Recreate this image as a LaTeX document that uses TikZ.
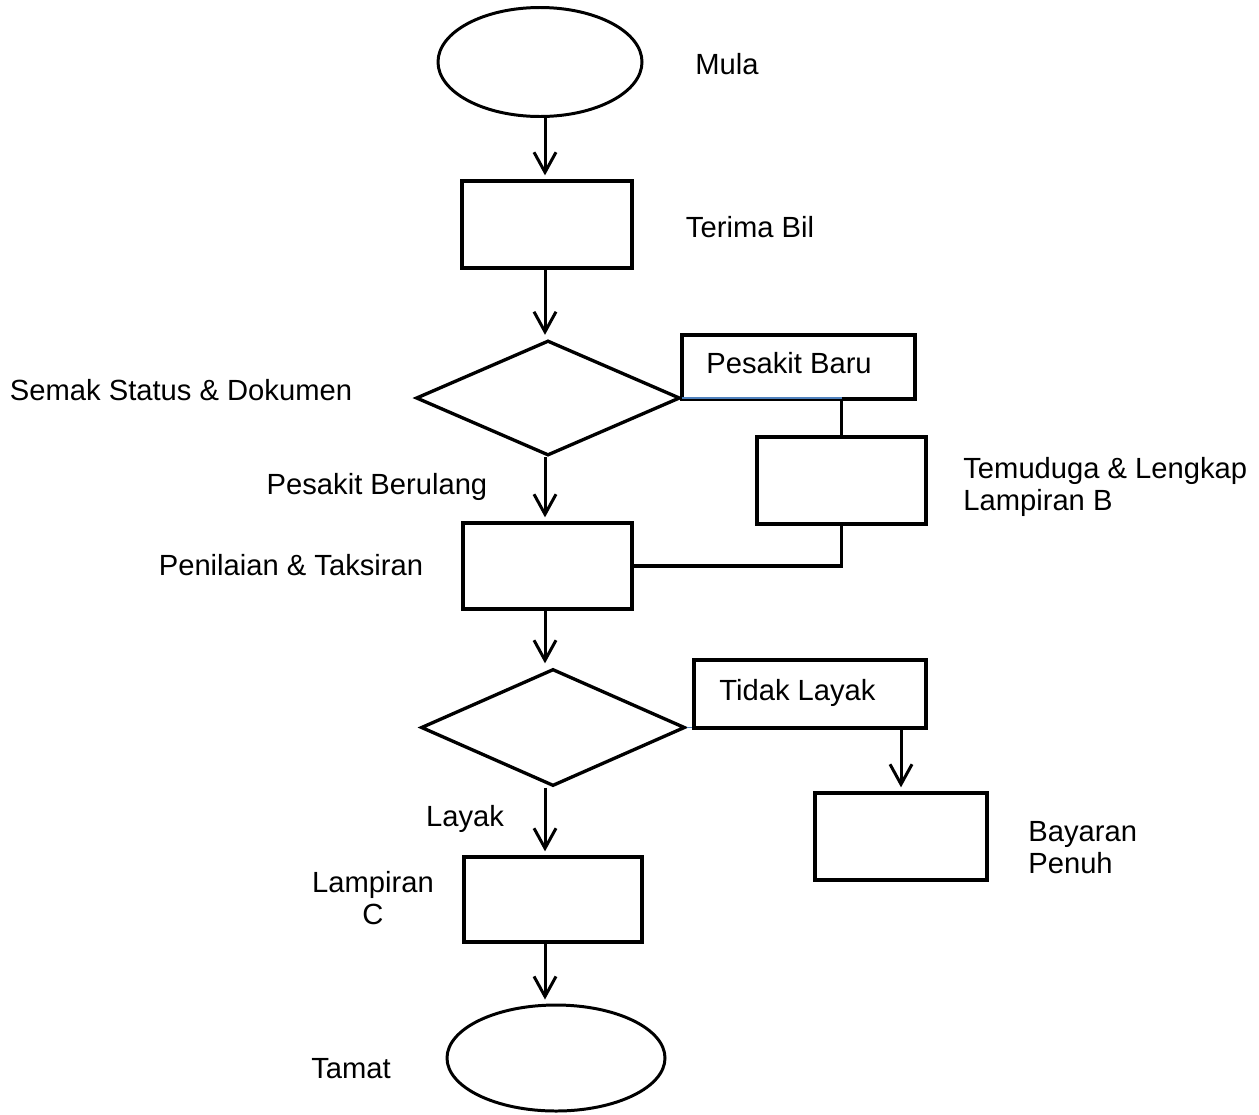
\documentclass[tikz,border=0pt]{standalone}
\usepackage{fontspec}
\setmainfont{Liberation Sans}
\usetikzlibrary{shapes.geometric,arrows.meta}

\definecolor{lineblue}{RGB}{79, 129, 189}

\tikzset{
    procbox/.style={draw, line width=1.9pt, inner sep=0pt},
    termbox/.style={draw, ellipse, line width=1.7pt, inner sep=0pt},
    decbox/.style={draw, diamond, line width=1.9pt, inner sep=0pt},
    lbl/.style={inner sep=0pt, font=\fontsize{16.6pt}{18.2pt}\selectfont},
    arr/.style={line width=1.7pt, shorten >=0.08cm, -{Straight Barb[length=4mm, width=4.4mm, line width=1.7pt]}},
    link/.style={line width=1.9pt},
    bluelink/.style={line width=0.6pt, lineblue}
}

\begin{document}
\begin{tikzpicture}
            \useasboundingbox (0, 0) rectangle (25.18, -22.28);

            \coordinate (spine) at (10.9, 0);

            \node[termbox, minimum width=4.08cm, minimum height=2.18cm] (mula) at (10.8, -1.24) {};
            \node[procbox, minimum width=3.4cm, minimum height=1.74cm] (terima) at (10.94, -4.49) {};
            \node[decbox, minimum width=5.28cm, minimum height=2.3cm] (semak) at (10.96, -7.96) {};
            \node[procbox, minimum width=4.66cm, minimum height=1.28cm] (baru) at (15.97, -7.34) {};
            \node[procbox, minimum width=3.38cm, minimum height=1.74cm] (temuduga) at (16.83, -9.61) {};
            \node[procbox, minimum width=3.38cm, minimum height=1.72cm] (penilaian) at (10.95, -11.32) {};
            \node[decbox, minimum width=5.28cm, minimum height=2.34cm] (layak) at (11.06, -14.55) {};
            \node[procbox, minimum width=4.64cm, minimum height=1.36cm] (tidak) at (16.2, -13.88) {};
            \node[procbox, minimum width=3.44cm, minimum height=1.74cm] (bayaran) at (18.02, -16.73) {};
            \node[procbox, minimum width=3.56cm, minimum height=1.7cm] (lampiran) at (11.06, -17.99) {};
            \node[termbox, minimum width=4.36cm, minimum height=2.12cm] (tamat) at (11.12, -21.16) {};

            \node[lbl, anchor=base] (mulalbl) at (14.54, -1.48) {Mula};
            \node[lbl, anchor=base] (terimalbl) at (15.0, -4.74) {Terima Bil};
            \node[lbl, anchor=base] (semaklbl) at (3.62, -8.0) {Semak Status \& Dokumen};
            \node[lbl, anchor=base west] (barulbl) at (14.12, -7.46) {Pesakit Baru};
            \node[lbl, anchor=base west, align=left] (temudugalbl) at (19.26, -10.2) {Temuduga \& Lengkap\\Lampiran B};
            \node[lbl, anchor=base] (berulanglbl) at (7.54, -9.88) {Pesakit Berulang};
            \node[lbl, anchor=base] (penilaianlbl) at (5.82, -11.5) {Penilaian \& Taksiran};
            \node[lbl, anchor=base west] (tidaklbl) at (14.38, -14.0) {Tidak Layak};
            \node[lbl, anchor=base west, align=left] (bayaranlbl) at (20.56, -17.46) {Bayaran\\Penuh};
            \node[lbl, anchor=base] (layaklbl) at (9.3, -16.52) {Layak};
            \node[lbl, anchor=base, align=center] (lampiranlbl) at (7.46, -18.48) {Lampiran\\C};
            \node[lbl, anchor=base] (tamatlbl) at (7.02, -21.56) {Tamat};

            \draw[arr] (mula.south -| spine) -- (terima.north -| spine);
            \draw[arr] (terima.south -| spine) -- (semak.north -| spine);
            \draw[arr] (semak.south -| spine) -- (penilaian.north -| spine);
            \draw[arr] (penilaian.south -| spine) -- (layak.north -| spine);
            \draw[arr] (layak.south -| spine) -- (lampiran.north -| spine);
            \draw[arr] (lampiran.south -| spine) -- (tamat.north -| spine);
            \draw[arr] (tidak.south -| bayaran.north) -- (bayaran.north);

            \draw[bluelink] (semak.east) -- (semak.east -| temuduga.north);
            \draw[link] (baru.south -| temuduga.north) -- (temuduga.north);
            \draw[link] (temuduga.south) |- (penilaian.east);
            \draw[bluelink] (layak.east) -- (layak.east -| tidak.west);
        \end{tikzpicture}
\end{document}
